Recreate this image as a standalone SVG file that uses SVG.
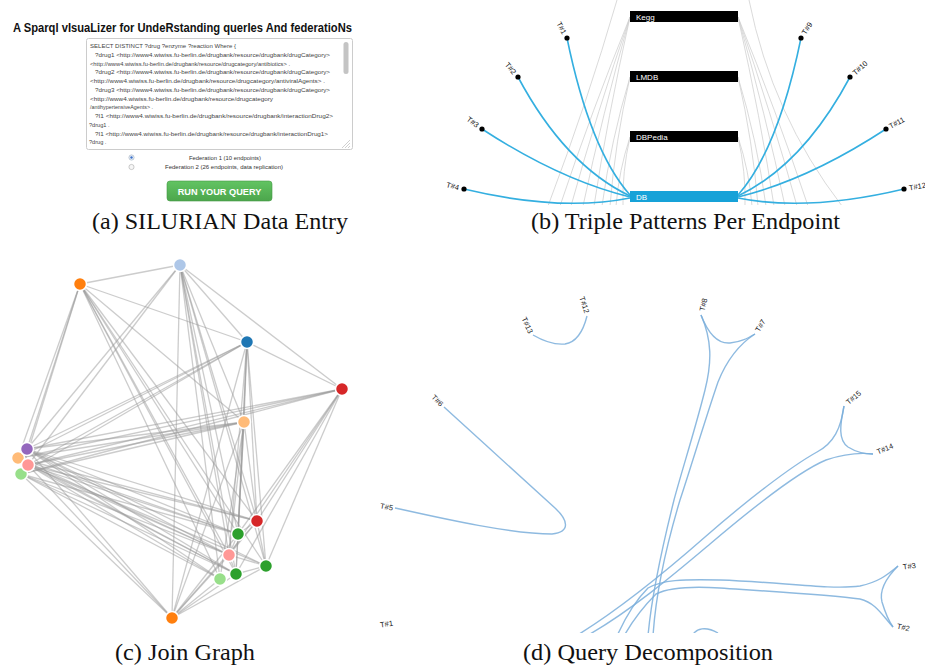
<svg xmlns="http://www.w3.org/2000/svg" width="925" height="668" viewBox="0 0 925 668">
<style>
.cap{font-family:"Liberation Serif","Times New Roman",serif;font-size:23px;fill:#111}
.ta{font-family:"Liberation Sans",Arial,sans-serif;font-size:5.6px;fill:#444}
.rad{font-family:"Liberation Sans",Arial,sans-serif;font-size:5.8px;fill:#333}
.lbl{font-family:"Liberation Sans",Arial,sans-serif;font-size:7.5px;fill:#111}
.bar{fill:#000}
.bt{font-family:"Liberation Sans",Arial,sans-serif;font-size:8px;fill:#fff}
.bl{fill:none;stroke:#34afe0;stroke-width:1.6}
.gl{fill:none;stroke:#d0d0d0;stroke-width:0.8}
.je line{stroke:#999;stroke-opacity:0.5;stroke-width:1.3}
.jn{stroke:#fff;stroke-width:1.5}
.dl{fill:none;stroke:#7aaedb;stroke-opacity:0.85;stroke-width:1.4}
.dlab{font-family:"Liberation Sans",Arial,sans-serif;font-size:7.5px;fill:#222}
</style>
<defs>
<linearGradient id="btn" x1="0" y1="0" x2="0" y2="1">
<stop offset="0" stop-color="#62c462"/>
<stop offset="1" stop-color="#4ca64c"/>
</linearGradient>
<clipPath id="clipB"><rect x="430" y="0" width="495" height="205"/></clipPath>
<clipPath id="clipD"><rect x="370" y="285" width="555" height="348"/></clipPath>
</defs>
<rect width="925" height="668" fill="#fff"/>

<!-- Panel (a) -->
<g id="panel-a">
<text x="13" y="31.5" font-family="'Liberation Sans',Arial,sans-serif" font-weight="bold" font-size="13.5" fill="#111" textLength="339" lengthAdjust="spacingAndGlyphs">A Sparql vIsuaLizer for UndeRstanding querIes And federatioNs</text>
<g id="query-textarea">
<rect x="86.5" y="38.5" width="266" height="111" rx="2" fill="#fff" stroke="#ccc" stroke-width="1"/>
<rect x="343.5" y="42" width="5" height="32" rx="2.5" fill="#c4c4c4"/>
<path d="M342,148 L350,140 M345,148 L350,143 M348,148 L350,146" stroke="#bbb" stroke-width="0.7"/>
<text class="ta" x="90" y="48" textLength="146" lengthAdjust="spacingAndGlyphs">SELECT DISTINCT ?drug ?enzyme ?reaction  Where {</text>
<text class="ta" x="95" y="56.75" textLength="235" lengthAdjust="spacingAndGlyphs">?drug1 &lt;http://www4.wiwiss.fu-berlin.de/drugbank/resource/drugbank/drugCategory&gt;</text>
<text class="ta" x="90" y="65.5" textLength="200" lengthAdjust="spacingAndGlyphs">&lt;http://www4.wiwiss.fu-berlin.de/drugbank/resource/drugcategory/antibiotics&gt; .</text>
<text class="ta" x="95" y="74.25" textLength="235" lengthAdjust="spacingAndGlyphs">?drug2 &lt;http://www4.wiwiss.fu-berlin.de/drugbank/resource/drugbank/drugCategory&gt;</text>
<text class="ta" x="90" y="83" textLength="235" lengthAdjust="spacingAndGlyphs">&lt;http://www4.wiwiss.fu-berlin.de/drugbank/resource/drugcategory/antiviralAgents&gt; .</text>
<text class="ta" x="95" y="91.75" textLength="235" lengthAdjust="spacingAndGlyphs">?drug3 &lt;http://www4.wiwiss.fu-berlin.de/drugbank/resource/drugbank/drugCategory&gt;</text>
<text class="ta" x="90" y="100.5" textLength="183" lengthAdjust="spacingAndGlyphs">&lt;http://www4.wiwiss.fu-berlin.de/drugbank/resource/drugcategory</text>
<text class="ta" x="90" y="109.25" textLength="63" lengthAdjust="spacingAndGlyphs">/antihypertensiveAgents&gt; .</text>
<text class="ta" x="95" y="118" textLength="238" lengthAdjust="spacingAndGlyphs">?I1 &lt;http://www4.wiwiss.fu-berlin.de/drugbank/resource/drugbank/interactionDrug2&gt;</text>
<text class="ta" x="89" y="126.75">?drug1 .</text>
<text class="ta" x="95" y="135.5" textLength="233" lengthAdjust="spacingAndGlyphs">?I1 &lt;http://www4.wiwiss.fu-berlin.de/drugbank/resource/drugbank/interactionDrug1&gt;</text>
<text class="ta" x="89" y="144.25">?drug .</text>
</g>
<g id="radio-fed1">
<circle cx="131.5" cy="157.5" r="2.6" fill="#eef3fb" stroke="#9ab" stroke-width="0.6"/>
<circle cx="131.5" cy="157.5" r="1.2" fill="#3a70c8"/>
<text class="rad" x="225" y="159.6" text-anchor="middle" textLength="72" lengthAdjust="spacingAndGlyphs">Federation 1 (10 endpoints)</text>
</g>
<g id="radio-fed2">
<circle cx="131.5" cy="167" r="2.6" fill="#f6f6f6" stroke="#aaa" stroke-width="0.6"/>
<text class="rad" x="224" y="169.1" text-anchor="middle" textLength="118" lengthAdjust="spacingAndGlyphs">Federation 2 (26 endpoints, data replication)</text>
</g>
<g id="run-button">
<rect x="167" y="181" width="105" height="20" rx="3" fill="url(#btn)" stroke="#449944" stroke-width="0.6"/>
<text x="219.5" y="194.6" text-anchor="middle" font-family="'Liberation Sans',Arial,sans-serif" font-weight="bold" font-size="9.2" fill="#fff">RUN YOUR QUERY</text>
</g>
<text class="cap" x="92" y="229" textLength="256" lengthAdjust="spacingAndGlyphs">(a)  SILURIAN Data Entry</text>
</g>

<!-- Panel (b) -->
<g id="panel-b">
<g id="b-connectors" clip-path="url(#clipB)">
<path class="gl" d="M617,0 Q588,100 548,206"/>
<path class="gl" d="M630,17 Q592,110 560,206"/>
<path class="gl" d="M630,17 Q597,112 571,206"/>
<path class="gl" d="M630,17 Q602,116 583,206"/>
<path class="gl" d="M630,17 Q607,120 594,206"/>
<path class="gl" d="M630,77 Q611,140 602,206"/>
<path class="gl" d="M630,77 Q615,142 610,206"/>
<path class="gl" d="M630,137 Q619,170 616,206"/>
<path class="gl" d="M630,137 Q622,172 623,206"/>
<path class="gl" d="M749,0 Q772,115 842,206"/>
<path class="gl" d="M738,17 Q776,110 808,206"/>
<path class="gl" d="M738,17 Q771,112 797,206"/>
<path class="gl" d="M738,17 Q766,116 785,206"/>
<path class="gl" d="M738,17 Q761,120 774,206"/>
<path class="gl" d="M738,77 Q757,140 766,206"/>
<path class="gl" d="M738,77 Q753,142 758,206"/>
<path class="gl" d="M738,137 Q749,170 752,206"/>
<path class="gl" d="M738,137 Q746,172 745,206"/>
<path class="bl" d="M567,38 Q590,150 630,195"/>
<path class="bl" d="M518,77 Q565,165 630,196"/>
<path class="bl" d="M482,129 Q560,180 630,197"/>
<path class="bl" d="M464,189 Q560,212 630,198"/>
<path class="bl" d="M801,38 Q778,150 738,195"/>
<path class="bl" d="M850,77 Q803,165 738,196"/>
<path class="bl" d="M886,129 Q808,180 738,197"/>
<path class="bl" d="M904,189 Q808,212 738,198"/>
</g>
<g id="bar-kegg"><rect class="bar" x="630" y="11" width="108" height="11"/><text class="bt" x="636" y="19.8">Kegg</text></g>
<g id="bar-lmdb"><rect class="bar" x="630" y="71" width="108" height="11"/><text class="bt" x="636" y="79.8">LMDB</text></g>
<g id="bar-dbpedia"><rect class="bar" x="630" y="131" width="108" height="11"/><text class="bt" x="636" y="139.8">DBPedia</text></g>
<g id="bar-db"><rect x="630" y="191" width="108" height="11" fill="#17a2d8"/><text class="bt" x="636" y="199.8">DB</text></g>
<g id="b-t1"><circle cx="567" cy="38" r="2.6"/><text class="lbl" text-anchor="end" dy="0.35em" transform="translate(564.6,33.6) rotate(62)">T#1</text></g>
<g id="b-t2"><circle cx="518" cy="77" r="2.6"/><text class="lbl" text-anchor="end" dy="0.35em" transform="translate(514.8,73.2) rotate(50)">T#2</text></g>
<g id="b-t3"><circle cx="482" cy="129" r="2.6"/><text class="lbl" text-anchor="end" dy="0.35em" transform="translate(478,126) rotate(37)">T#3</text></g>
<g id="b-t4"><circle cx="464" cy="189" r="2.6"/><text class="lbl" text-anchor="end" dy="0.35em" transform="translate(459,187.7) rotate(15)">T#4</text></g>
<g id="b-t9"><circle cx="801" cy="38" r="2.6"/><text class="lbl" dy="0.35em" transform="translate(803.6,33.8) rotate(-58)">T#9</text></g>
<g id="b-t10"><circle cx="850" cy="77" r="2.6"/><text class="lbl" dy="0.35em" transform="translate(853.7,73.7) rotate(-42)">T#10</text></g>
<g id="b-t11"><circle cx="886" cy="129" r="2.6"/><text class="lbl" dy="0.35em" transform="translate(889.4,126.7) rotate(-28)">T#11</text></g>
<g id="b-t12"><circle cx="904" cy="189" r="2.6"/><text class="lbl" dy="0.35em" transform="translate(909,188) rotate(-10)">T#12</text></g>
<text class="cap" x="531" y="229" textLength="309" lengthAdjust="spacingAndGlyphs">(b)  Triple Patterns Per Endpoint</text>
</g>

<!-- Panel (c) -->
<g id="panel-c">
<g id="c-connectors" class="je">
<line x1="180" y1="265" x2="80" y2="284"/>
<line x1="180" y1="265" x2="247" y2="342"/>
<line x1="180" y1="265" x2="342" y2="389"/>
<line x1="180" y1="265" x2="27" y2="449"/>
<line x1="180" y1="265" x2="28" y2="465"/>
<line x1="180" y1="265" x2="172" y2="618"/>
<line x1="180" y1="265" x2="229" y2="555"/>
<line x1="180" y1="265" x2="236" y2="574"/>
<line x1="180" y1="265" x2="220" y2="579"/>
<line x1="180" y1="265" x2="238" y2="534"/>
<line x1="180" y1="265" x2="266" y2="566"/>
<line x1="180" y1="265" x2="257" y2="521"/>
<line x1="180" y1="265" x2="244" y2="422"/>
<line x1="80" y1="284" x2="247" y2="342"/>
<line x1="80" y1="284" x2="244" y2="422"/>
<line x1="80" y1="284" x2="27" y2="449"/>
<line x1="80" y1="284" x2="18" y2="458"/>
<line x1="80" y1="284" x2="21" y2="474"/>
<line x1="80" y1="284" x2="257" y2="521"/>
<line x1="80" y1="284" x2="238" y2="534"/>
<line x1="80" y1="284" x2="229" y2="555"/>
<line x1="80" y1="284" x2="266" y2="566"/>
<line x1="80" y1="284" x2="236" y2="574"/>
<line x1="80" y1="284" x2="220" y2="579"/>
<line x1="247" y1="342" x2="342" y2="389"/>
<line x1="247" y1="342" x2="27" y2="449"/>
<line x1="247" y1="342" x2="18" y2="458"/>
<line x1="247" y1="342" x2="28" y2="465"/>
<line x1="247" y1="342" x2="21" y2="474"/>
<line x1="247" y1="342" x2="244" y2="422"/>
<line x1="247" y1="342" x2="257" y2="521"/>
<line x1="247" y1="342" x2="238" y2="534"/>
<line x1="247" y1="342" x2="229" y2="555"/>
<line x1="247" y1="342" x2="266" y2="566"/>
<line x1="247" y1="342" x2="236" y2="574"/>
<line x1="247" y1="342" x2="172" y2="618"/>
<line x1="342" y1="389" x2="27" y2="449"/>
<line x1="342" y1="389" x2="18" y2="458"/>
<line x1="342" y1="389" x2="28" y2="465"/>
<line x1="342" y1="389" x2="21" y2="474"/>
<line x1="342" y1="389" x2="257" y2="521"/>
<line x1="342" y1="389" x2="238" y2="534"/>
<line x1="342" y1="389" x2="229" y2="555"/>
<line x1="342" y1="389" x2="266" y2="566"/>
<line x1="342" y1="389" x2="236" y2="574"/>
<line x1="244" y1="422" x2="27" y2="449"/>
<line x1="244" y1="422" x2="18" y2="458"/>
<line x1="244" y1="422" x2="28" y2="465"/>
<line x1="244" y1="422" x2="21" y2="474"/>
<line x1="244" y1="422" x2="257" y2="521"/>
<line x1="244" y1="422" x2="238" y2="534"/>
<line x1="244" y1="422" x2="229" y2="555"/>
<line x1="244" y1="422" x2="236" y2="574"/>
<line x1="244" y1="422" x2="220" y2="579"/>
<line x1="244" y1="422" x2="172" y2="618"/>
<line x1="27" y1="449" x2="257" y2="521"/>
<line x1="27" y1="449" x2="238" y2="534"/>
<line x1="27" y1="449" x2="229" y2="555"/>
<line x1="27" y1="449" x2="266" y2="566"/>
<line x1="27" y1="449" x2="236" y2="574"/>
<line x1="27" y1="449" x2="220" y2="579"/>
<line x1="27" y1="449" x2="172" y2="618"/>
<line x1="18" y1="458" x2="257" y2="521"/>
<line x1="18" y1="458" x2="238" y2="534"/>
<line x1="18" y1="458" x2="229" y2="555"/>
<line x1="18" y1="458" x2="236" y2="574"/>
<line x1="28" y1="465" x2="257" y2="521"/>
<line x1="28" y1="465" x2="238" y2="534"/>
<line x1="28" y1="465" x2="229" y2="555"/>
<line x1="28" y1="465" x2="266" y2="566"/>
<line x1="28" y1="465" x2="236" y2="574"/>
<line x1="28" y1="465" x2="220" y2="579"/>
<line x1="28" y1="465" x2="172" y2="618"/>
<line x1="21" y1="474" x2="238" y2="534"/>
<line x1="21" y1="474" x2="229" y2="555"/>
<line x1="21" y1="474" x2="236" y2="574"/>
<line x1="21" y1="474" x2="220" y2="579"/>
<line x1="21" y1="474" x2="172" y2="618"/>
<line x1="172" y1="618" x2="257" y2="521"/>
<line x1="172" y1="618" x2="238" y2="534"/>
<line x1="172" y1="618" x2="229" y2="555"/>
<line x1="172" y1="618" x2="266" y2="566"/>
<line x1="172" y1="618" x2="236" y2="574"/>
<line x1="172" y1="618" x2="220" y2="579"/>
<line x1="257" y1="521" x2="238" y2="534"/>
<line x1="257" y1="521" x2="266" y2="566"/>
<line x1="257" y1="521" x2="229" y2="555"/>
<line x1="238" y1="534" x2="229" y2="555"/>
<line x1="229" y1="555" x2="236" y2="574"/>
<line x1="229" y1="555" x2="266" y2="566"/>
<line x1="266" y1="566" x2="236" y2="574"/>
</g>
<g id="c-n-lightblue"><circle class="jn" cx="180" cy="265" r="6.5" fill="#aec7e8"/></g>
<g id="c-n-orange-top"><circle class="jn" cx="80" cy="284" r="6.5" fill="#ff7f0e"/></g>
<g id="c-n-blue"><circle class="jn" cx="247" cy="342" r="6.5" fill="#1f77b4"/></g>
<g id="c-n-red-top"><circle class="jn" cx="342" cy="389" r="6.5" fill="#d62728"/></g>
<g id="c-n-lightorange"><circle class="jn" cx="244" cy="422" r="6.5" fill="#ffbb78"/></g>
<g id="c-n-lightorange-left"><circle class="jn" cx="18" cy="458" r="6.5" fill="#ffbb78"/></g>
<g id="c-n-lightgreen-left"><circle class="jn" cx="21" cy="474" r="6.5" fill="#98df8a"/></g>
<g id="c-n-purple"><circle class="jn" cx="27" cy="449" r="6.5" fill="#9467bd"/></g>
<g id="c-n-pink-left"><circle class="jn" cx="28" cy="465" r="6.5" fill="#ff9896"/></g>
<g id="c-n-red-low"><circle class="jn" cx="257" cy="521" r="6.5" fill="#d62728"/></g>
<g id="c-n-green1"><circle class="jn" cx="238" cy="534" r="6.5" fill="#2ca02c"/></g>
<g id="c-n-pink-low"><circle class="jn" cx="229" cy="555" r="6.5" fill="#ff9896"/></g>
<g id="c-n-green2"><circle class="jn" cx="266" cy="566" r="6.5" fill="#2ca02c"/></g>
<g id="c-n-lightgreen-low"><circle class="jn" cx="220" cy="579" r="6.5" fill="#98df8a"/></g>
<g id="c-n-green3"><circle class="jn" cx="236" cy="574" r="6.5" fill="#2ca02c"/></g>
<g id="c-n-orange-bottom"><circle class="jn" cx="172" cy="618" r="6.5" fill="#ff7f0e"/></g>
<text class="cap" x="115" y="660" textLength="140" lengthAdjust="spacingAndGlyphs">(c)  Join Graph</text>
</g>

<!-- Panel (d) -->
<g id="panel-d">
<g id="d-connectors" clip-path="url(#clipD)">
<path class="dl" d="M533,335 C545,342 555,345 565,344 C578,342 584,328 587,316"/>
<path class="dl" d="M444,407 C480,440 530,485 555,508 C568,520 571,532 552,534 C510,534 440,518 395,508"/>
<path class="dl" d="M701,315 C708,333 718,344 730,343 C741,342 748,338 755,334"/>
<path class="dl" d="M701,315 C712,340 712,362 705,390 C695,430 682,470 674,500 C664,540 652,590 648,636"/>
<path class="dl" d="M755,334 C738,345 726,362 718,382 C705,420 690,470 680,500 C668,540 656,590 653,636"/>
<path class="dl" d="M844,406 C840,425 838,440 848,447 C856,452 865,454 873,454"/>
<path class="dl" d="M844,406 C841,428 834,443 817,452 C790,467 745,502 705,537 C672,566 625,606 576,636"/>
<path class="dl" d="M873,454 C856,452 841,455 826,460 C797,472 750,510 710,544 C678,571 630,612 583,638"/>
<path class="dl" d="M898,566 C886,578 879,590 882,602 C885,612 888,620 893,627"/>
<path class="dl" d="M898,566 C886,576 878,582 860,586 C830,590 780,582 720,580 C682,579 662,580 648,588 C636,600 626,616 617,636"/>
<path class="dl" d="M893,627 C882,615 876,603 860,599 C830,595 780,592 720,588 C690,586 668,588 656,594 C645,605 633,620 624,636"/>
<path class="dl" d="M692,636 C696,628 706,626 718,633"/>
</g>
<g id="d-t13"><text class="dlab" text-anchor="end" dy="0.35em" transform="translate(531,333) rotate(65)">T#13</text></g>
<g id="d-t12"><text class="dlab" text-anchor="end" dy="0.35em" transform="translate(587,313) rotate(72)">T#12</text></g>
<g id="d-t6"><text class="dlab" text-anchor="end" dy="0.35em" transform="translate(442,405) rotate(45)">T#6</text></g>
<g id="d-t5"><text class="dlab" text-anchor="end" dy="0.35em" transform="translate(393,508) rotate(10)">T#5</text></g>
<g id="d-t1"><text class="dlab" text-anchor="end" dy="0.35em" transform="translate(393,623) rotate(-8)">T#1</text></g>
<g id="d-t8"><text class="dlab" dy="0.35em" transform="translate(702,311) rotate(-78)">T#8</text></g>
<g id="d-t7"><text class="dlab" dy="0.35em" transform="translate(757,331) rotate(-58)">T#7</text></g>
<g id="d-t15"><text class="dlab" dy="0.35em" transform="translate(847,403) rotate(-40)">T#15</text></g>
<g id="d-t14"><text class="dlab" dy="0.35em" transform="translate(877,452) rotate(-22)">T#14</text></g>
<g id="d-t3"><text class="dlab" dy="0.35em" transform="translate(903,567) rotate(-8)">T#3</text></g>
<g id="d-t2"><text class="dlab" dy="0.35em" transform="translate(897,626) rotate(12)">T#2</text></g>
<text class="cap" x="523" y="660" textLength="250" lengthAdjust="spacingAndGlyphs">(d)  Query Decomposition</text>
</g>
</svg>
